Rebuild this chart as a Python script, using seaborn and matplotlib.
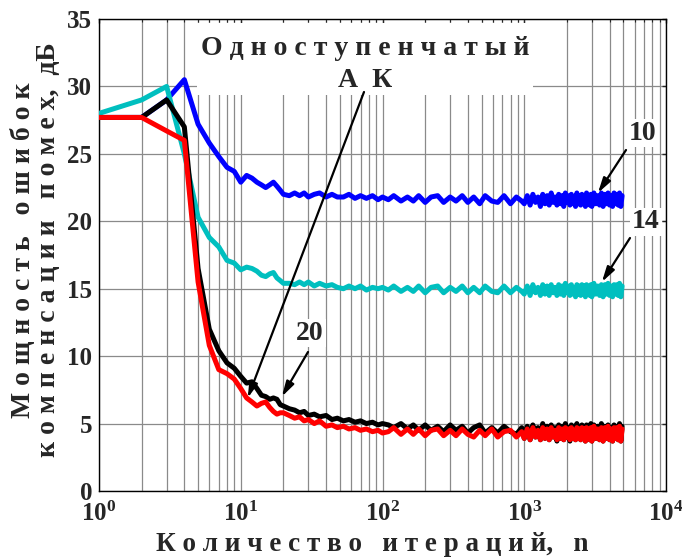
import numpy as np
import pandas as pd
import matplotlib
matplotlib.use("Agg")
import matplotlib.pyplot as plt
import seaborn as sns
from matplotlib.patches import Rectangle

# iteration numbers (x)
n_head = list(range(1, 21))
n_mid = [22, 24, 26, 28, 30, 33, 36, 40, 44, 48, 53, 58, 64, 70, 77, 85, 93, 100]
n_late = [110, 120, 135, 150, 165, 180, 200, 220, 245, 270, 300, 330, 365, 400, 440,
          485, 530, 590, 650, 720, 800, 880, 960]
n_tail = list(range(1000, 3000, 50)) + list(range(3000, 5000, 100))
n_iter = n_head + n_mid + n_late + n_tail

# error power, dB
blue_vals = ([27.7, 27.7, 29.0, 30.5, 27.2, 25.8, 24.8, 24.0, 23.7, 22.9, 23.4, 23.2, 22.9, 22.7, 22.5, 22.7, 22.9, 22.6, 22.3, 22.0]
             + [21.9, 22.1, 21.9, 22.1, 21.8, 22.0, 22.1, 21.8, 22.0, 21.8, 21.8, 22.0, 21.7, 21.9, 21.7, 21.9, 21.6, 21.8]
             + [21.6, 21.9, 21.5, 21.8, 21.5, 21.9, 21.4, 21.8, 21.9, 21.4, 21.8, 21.5, 21.9, 21.4, 21.8, 21.3, 21.9, 21.5, 21.4, 21.9, 21.3, 21.8, 21.5]
             + [21.3, 21.9, 21.2, 22.0, 21.4, 21.8, 21.1, 22.0, 21.3, 21.9, 21.2, 22.1, 21.4, 21.8, 21.2, 22.0, 21.3, 21.9, 21.1, 22.1,
                21.4, 21.9, 21.2, 22.0, 21.3, 21.8, 21.1, 22.1, 21.3, 21.9, 21.2, 22.0, 21.4, 21.9, 21.1, 22.1, 21.3, 21.8, 21.2, 22.0,
                21.1, 22.1, 21.3, 21.9, 21.2, 22.1, 21.1, 22.0, 21.3, 22.1, 21.2, 21.9, 21.1, 22.1, 21.3, 22.0, 21.2, 22.1, 21.1, 21.9])
cyan_vals = ([28.0, 29.0, 30.0, 25.0, 20.3, 18.8, 18.1, 17.1, 16.9, 16.4, 16.6, 16.5, 16.3, 16.0, 15.9, 16.1, 16.2, 15.8, 15.6, 15.4]
             + [15.4, 15.3, 15.5, 15.3, 15.5, 15.2, 15.4, 15.2, 15.3, 15.1, 15.0, 15.2, 15.0, 15.2, 14.9, 15.1, 15.0, 15.1]
             + [14.9, 15.2, 14.8, 15.1, 14.8, 15.2, 14.7, 15.1, 15.2, 14.7, 15.1, 14.8, 15.2, 14.7, 15.1, 14.7, 15.2, 14.8, 14.7, 15.2, 14.7, 15.1, 14.8]
             + [14.6, 15.2, 14.5, 15.3, 14.7, 15.1, 14.5, 15.3, 14.6, 15.2, 14.5, 15.3, 14.7, 15.1, 14.5, 15.3, 14.6, 15.2, 14.5, 15.4,
                14.7, 15.2, 14.5, 15.3, 14.6, 15.1, 14.4, 15.3, 14.6, 15.2, 14.5, 15.3, 14.7, 15.2, 14.4, 15.3, 14.6, 15.1, 14.5, 15.3,
                14.4, 15.4, 14.6, 15.2, 14.5, 15.3, 14.4, 15.3, 14.6, 15.4, 14.5, 15.2, 14.4, 15.3, 14.6, 15.3, 14.5, 15.4, 14.4, 15.2])
black_vals = ([27.7, 27.7, 29.0, 27.0, 16.5, 12.0, 10.4, 9.5, 9.1, 8.5, 8.0, 8.1, 7.6, 7.1, 7.0, 6.8, 6.9, 6.8, 6.4, 6.3]
              + [6.1, 6.0, 5.8, 5.9, 5.6, 5.7, 5.5, 5.6, 5.3, 5.4, 5.2, 5.3, 5.1, 5.2, 5.0, 5.1, 4.9, 5.0]
              + [4.9, 4.7, 5.0, 4.6, 4.9, 4.5, 4.9, 4.5, 4.8, 4.4, 4.9, 4.5, 4.8, 4.3, 4.7, 4.9, 4.3, 4.7, 4.3, 4.8, 4.4, 4.2, 4.7]
              + [3.9, 4.8, 3.8, 4.9, 4.0, 4.7, 3.8, 5.0, 3.9, 4.8, 3.8, 4.9, 4.0, 4.7, 3.7, 4.9, 3.9, 4.8, 3.8, 5.0,
                 4.0, 4.7, 3.7, 4.9, 3.9, 4.8, 3.8, 5.0, 3.9, 4.7, 3.8, 4.9, 4.0, 4.8, 3.7, 4.9, 3.9, 4.7, 3.8, 5.0,
                 3.7, 4.9, 3.9, 4.8, 3.8, 5.0, 3.7, 4.8, 3.9, 4.9, 3.8, 4.7, 3.7, 4.9, 3.9, 4.8, 3.8, 5.0, 3.7, 4.8])
red_vals = ([27.7, 27.7, 26.7, 26.0, 15.5, 10.8, 9.0, 8.7, 8.3, 7.6, 6.9, 6.6, 6.3, 6.5, 6.6, 6.2, 5.9, 5.7, 5.8, 5.8]
            + [5.6, 5.4, 5.5, 5.2, 5.3, 5.0, 5.2, 4.8, 4.9, 4.7, 4.8, 4.6, 4.7, 4.5, 4.6, 4.4, 4.5, 4.3]
            + [4.4, 4.7, 4.2, 4.6, 4.2, 4.6, 4.1, 4.5, 4.6, 4.1, 4.5, 4.1, 4.6, 4.2, 4.0, 4.5, 4.1, 4.6, 4.0, 4.4, 4.5, 4.0, 4.4]
            + [3.9, 4.6, 3.8, 4.7, 4.0, 4.5, 3.8, 4.7, 3.9, 4.6, 3.8, 4.7, 4.0, 4.5, 3.8, 4.7, 3.9, 4.6, 3.8, 4.7,
               4.0, 4.6, 3.8, 4.7, 3.9, 4.5, 3.8, 4.7, 3.9, 4.6, 3.8, 4.7, 4.0, 4.6, 3.7, 4.7, 3.9, 4.5, 3.8, 4.7,
               3.7, 4.8, 3.9, 4.6, 3.8, 4.7, 3.7, 4.7, 3.9, 4.8, 3.8, 4.6, 3.7, 4.7, 3.9, 4.7, 3.8, 4.8, 3.7, 4.6])

y_ticks = [0, 5, 10, 15, 20, 25, 30, 35]
x_ticks = [1, 10, 100, 1000, 10000]
x_tick_labels = [r"$10^{0}$", r"$10^{1}$", r"$10^{2}$", r"$10^{3}$", r"$10^{4}$"]

sns.set_style("white")
plt.rcParams["font.family"] = ["Liberation Serif", "DejaVu Serif"]
plt.rcParams["font.weight"] = "bold"
plt.rcParams["mathtext.fontset"] = "custom"
plt.rcParams["mathtext.rm"] = "Liberation Serif:bold"
plt.rcParams["mathtext.it"] = "Liberation Serif:bold"
plt.rcParams["mathtext.bf"] = "Liberation Serif:bold"

fig = plt.figure(figsize=(6.82, 5.59), dpi=100)
ax = fig.add_axes([99 / 682, 68 / 559, 567 / 682, 472 / 559])

series = [(blue_vals, "#0000ff"), (cyan_vals, "#00bfbf"), (black_vals, "black"), (red_vals, "#ff0000")]
for vals, col in series:
    df = pd.DataFrame({"n": n_iter, "p": vals})
    sns.lineplot(data=df, x="n", y="p", color=col, lw=3.6, estimator=None, sort=False, ax=ax, zorder=3)

ax.set_xscale("log")
ax.set_xlim(1, 1e4)
ax.set_ylim(0, 35)
ax.set_xticks(x_ticks)
ax.set_xticklabels(x_tick_labels)
ax.set_yticks(y_ticks)
ax.set_xlabel("")
ax.set_ylabel("")
ax.set_axisbelow(True)
ax.grid(True, which="both", axis="x", color="#8a8a8a", lw=0.9)
ax.grid(True, which="major", axis="y", color="#8a8a8a", lw=0.9)
ax.tick_params(which="both", direction="in", top=True, right=True, labelsize=18)
ax.tick_params(axis="y", pad=5)
ax.tick_params(axis="x", pad=8)
ax.tick_params(which="major", length=3, width=1)
ax.tick_params(which="minor", length=2.5, width=0.8)
for s in ax.spines.values():
    s.set_color("black")
    s.set_linewidth(1.0)
for lab in ax.get_xticklabels() + ax.get_yticklabels():
    lab.set_fontweight("bold")

# white box behind the "Одноступенчатый АК" note
ax.add_patch(Rectangle((0.172, 0.84), 0.594, 0.152, transform=ax.transAxes,
                       facecolor="white", edgecolor="none", zorder=1))

fig.text(365 / 682, 1 - 55 / 559, "О д н о с т у п е н ч а т ы й", ha="center", va="baseline",
         fontsize=20, fontweight="bold")
fig.text(365 / 682, 1 - 87 / 559, "А  К", ha="center", va="baseline", fontsize=20, fontweight="bold")

arrow = dict(arrowstyle="-|>,head_width=0.25,head_length=0.9", color="black", lw=1.6, shrinkA=0, shrinkB=0)
ax.annotate("", xy=(11.2, 6.9), xytext=(364, 559 - 92), textcoords="figure pixels", arrowprops=arrow, zorder=5)
ax.annotate("", xy=(19.5, 7.0), xytext=(308, 559 - 352), textcoords="figure pixels", arrowprops=arrow, zorder=5)
ax.annotate("", xy=(3310, 22.1), xytext=(626, 559 - 150), textcoords="figure pixels", arrowprops=arrow, zorder=5)
ax.annotate("", xy=(3530, 15.5), xytext=(630, 559 - 238), textcoords="figure pixels", arrowprops=arrow, zorder=5)

box = dict(facecolor="white", edgecolor="none", pad=1.5)
fig.text(310 / 682, 1 - 333 / 559, "20", ha="center", va="center", fontsize=20, fontweight="bold", bbox=box)
fig.text(643 / 682, 1 - 133 / 559, "10", ha="center", va="center", fontsize=20, fontweight="bold", bbox=box)
fig.text(646 / 682, 1 - 222 / 559, "14", ha="center", va="center", fontsize=20, fontweight="bold", bbox=box)

fig.text(372 / 682, 1 - 551 / 559, "К о л и ч е с т в о   и т е р а ц и й,   n", ha="center", va="baseline",
         fontsize=19.5, fontweight="bold")
fig.text(36 / 682, 1 - 250 / 559, "М о щ н о с т ь   о ш и б о к\nк о м п е н с а ц и и   п о м е х,  дБ",
         rotation=90, ha="center", va="center", multialignment="center", fontsize=20, fontweight="bold",
         linespacing=1.05)

fig.savefig("out.png", dpi=100)
